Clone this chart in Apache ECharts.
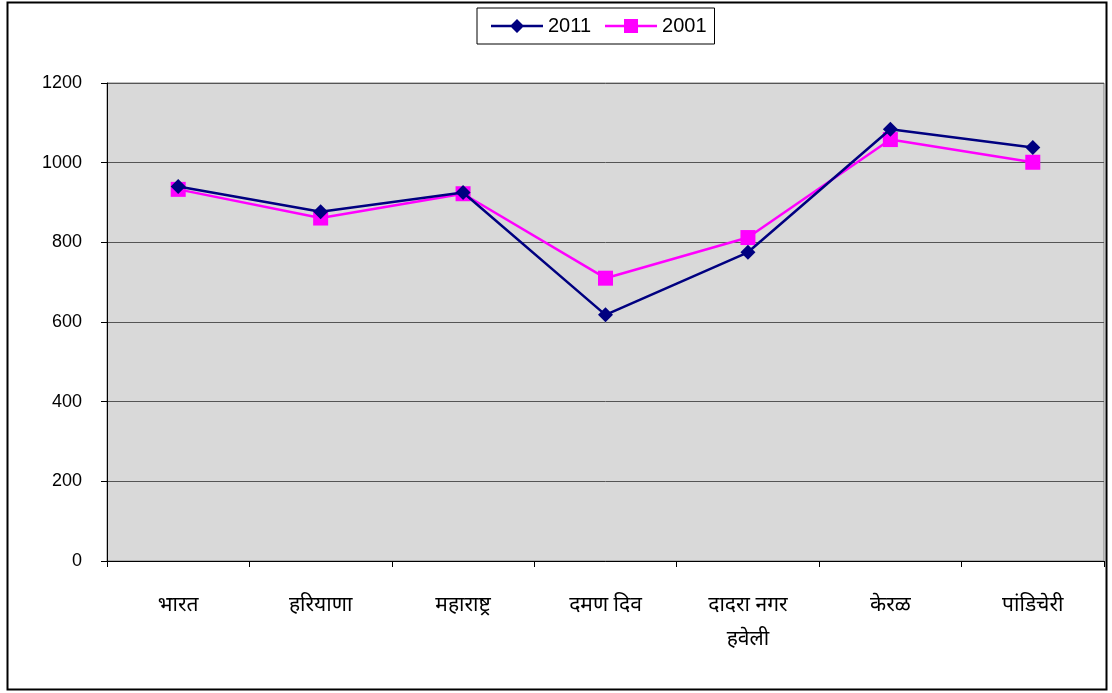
<!DOCTYPE html>
<html><head><meta charset="utf-8">
<script src="https://cdn.jsdelivr.net/npm/echarts@6/dist/echarts.min.js"></script>
<style>html,body{margin:0;padding:0;background:#fff}#c{width:1112px;height:693px}</style>
</head><body><div id="c"></div>
<script>
const categories = ['भारत', 'हरियाणा', 'महाराष्ट्र', 'दमण दिव', 'दादरा नगर\nहवेली', 'केरळ', 'पांडिचेरी'];
const series2011 = [940, 877, 925, 618, 775, 1084, 1038];
const series2001 = [933, 861, 922, 710, 812, 1058, 1001];
const yTicks = [0, 1200, 200];

const diamondIcon = 'path://M0,5.8 H52 V8.2 H0 Z M26,0 L33,7 L26,14 L19,7 Z';
const squareIcon = 'path://M0,5.8 H52 V8.2 H0 Z M19,0 H33 V14 H19 Z';

const chart = echarts.init(document.getElementById('c'), null, {renderer: 'canvas'});
chart.setOption({
  animation: false,
  backgroundColor: '#fff',
  graphic: [{type: 'rect', shape: {x: 7.5, y: 2.5, width: 1099, height: 687}, style: {fill: 'none', stroke: '#000', lineWidth: 2}, silent: true}],
  legend: {
    top: 8, left: 477,
    itemWidth: 52, itemHeight: 14, itemGap: 14,
    padding: [8, 8, 8, 14],
    borderColor: '#000', borderWidth: 1, borderRadius: 0,
    textStyle: {fontFamily: 'Liberation Sans, Arial, sans-serif', fontSize: 20, color: '#000'},
    data: [{name: '2011', icon: diamondIcon}, {name: '2001', icon: squareIcon}]
  },
  grid: {left: 107, right: 8, top: 83, bottom: 132, show: true, backgroundColor: '#d9d9d9', borderColor: '#808080', borderWidth: 1},
  xAxis: {
    type: 'category', data: categories, boundaryGap: true,
    axisLine: {lineStyle: {color: '#000', width: 1}},
    axisTick: {show: true, length: 6, lineStyle: {color: '#000'}},
    axisLabel: {fontFamily: 'Noto Sans, DejaVu Sans, sans-serif', fontSize: 21, color: '#000', margin: 27, lineHeight: 34, interval: 0}
  },
  yAxis: {
    type: 'value', min: yTicks[0], max: yTicks[1], interval: yTicks[2],
    axisLine: {show: true, lineStyle: {color: '#000'}},
    axisTick: {show: true, length: 6, lineStyle: {color: '#000'}},
    splitLine: {lineStyle: {color: '#555', width: 1}},
    axisLabel: {fontFamily: 'Liberation Sans, Arial, sans-serif', fontSize: 18, color: '#000', margin: 25, formatter: v => String(v)}
  },
  series: [
    {name: '2011', type: 'line', data: series2011, symbol: 'diamond', symbolSize: 15,
     lineStyle: {color: '#000080', width: 2.5}, itemStyle: {color: '#000080'}, z: 3},
    {name: '2001', type: 'line', data: series2001, symbol: 'rect', symbolSize: 15,
     lineStyle: {color: '#ff00ff', width: 2.5}, itemStyle: {color: '#ff00ff'}, z: 2}
  ]
});
</script></body></html>
